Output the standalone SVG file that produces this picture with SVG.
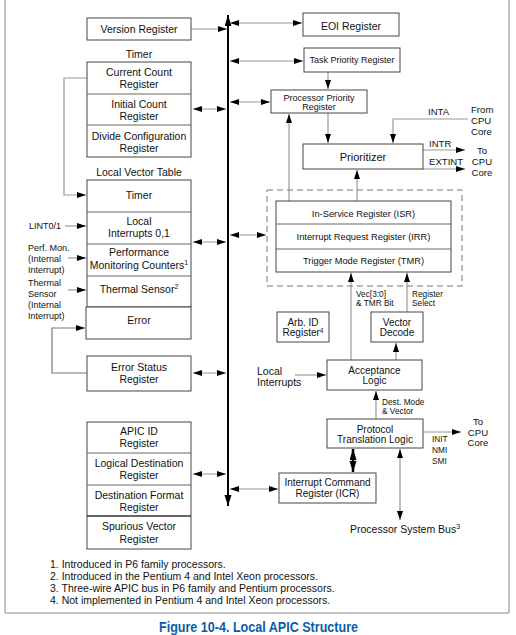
<svg xmlns="http://www.w3.org/2000/svg" width="516" height="635" viewBox="0 0 516 635">
<style>
text{font-family:"Liberation Sans",Arial,sans-serif;fill:#111;}
.t{font-size:10.5px;text-anchor:middle;}
.s{font-size:9.3px;text-anchor:middle;}
.p{font-size:9px;text-anchor:middle;}
.sm{font-size:8.3px;}
.lb{font-size:9px;}
.cp{font-size:9.6px;}
.fn{font-size:10.5px;}
.box{fill:#fff;stroke:#444;stroke-width:1;}
.div{stroke:#666;stroke-width:1;fill:none;}
.ln{stroke:#999;stroke-width:1.2;fill:none;}
.lnd{stroke:#777;stroke-width:1.2;fill:none;}
.bus{stroke:#000;stroke-width:2;fill:none;}
.thick{stroke:#000;stroke-width:2.5;fill:none;}
</style>
<defs>
<marker id="ah" markerUnits="userSpaceOnUse" markerWidth="10" markerHeight="7" refX="9" refY="3" orient="auto-start-reverse">
<path d="M0,0 L9,3 L0,6 z" fill="#000"/>
</marker>
<marker id="ahb" markerUnits="userSpaceOnUse" markerWidth="12" markerHeight="8" refX="11" refY="3.5" orient="auto-start-reverse">
<path d="M0,0 L11,3.5 L0,7 z" fill="#000"/>
</marker>
</defs>

<!-- frame -->
<path d="M5,-1 V613 H509 V-1" fill="none" stroke="#888" stroke-width="1"/>

<g id="connectors">
<line class="bus" x1="228" y1="15" x2="228" y2="506" marker-start="url(#ahb)" marker-end="url(#ahb)"/>
<line class="ln" x1="191" y1="29" x2="227" y2="29" marker-end="url(#ah)"/>
<line class="ln" x1="193" y1="109" x2="226" y2="109" marker-start="url(#ah)" marker-end="url(#ah)"/>
<path class="ln" d="M87,78 H64 V195 H86" marker-end="url(#ah)"/>
<line class="ln" x1="193" y1="242" x2="226" y2="242" marker-start="url(#ah)" marker-end="url(#ah)"/>
<line class="ln" x1="65" y1="226" x2="86" y2="226" marker-end="url(#ah)"/>
<line class="ln" x1="68" y1="258" x2="86" y2="258" marker-end="url(#ah)"/>
<line class="ln" x1="68" y1="290" x2="86" y2="290" marker-end="url(#ah)"/>
<path class="lnd" d="M87,373 H52 V328 H85" marker-end="url(#ah)"/>
<line class="ln" x1="193" y1="373" x2="226" y2="373" marker-start="url(#ah)" marker-end="url(#ah)"/>
<line class="ln" x1="193" y1="474" x2="226" y2="474" marker-start="url(#ah)" marker-end="url(#ah)"/>
<line class="ln" x1="230" y1="23" x2="302" y2="23" marker-start="url(#ah)" marker-end="url(#ah)"/>
<line class="ln" x1="230" y1="61" x2="303" y2="61" marker-start="url(#ah)" marker-end="url(#ah)"/>
<line class="ln" x1="230" y1="102" x2="270" y2="102" marker-start="url(#ah)" marker-end="url(#ah)"/>
<line class="ln" x1="230" y1="235" x2="266" y2="235" marker-start="url(#ah)" marker-end="url(#ah)"/>
<line class="ln" x1="230" y1="489" x2="278" y2="489" marker-start="url(#ah)" marker-end="url(#ah)"/>
<line class="ln" x1="328" y1="72" x2="328" y2="89" marker-end="url(#ah)"/>
<line class="ln" x1="328" y1="113" x2="328" y2="143" marker-end="url(#ah)"/>
<line class="ln" x1="289" y1="201" x2="289" y2="114" marker-end="url(#ah)"/>
<line class="ln" x1="357" y1="201" x2="357" y2="170" marker-end="url(#ah)"/>
<path class="ln" d="M468,119 H393 V143" marker-end="url(#ah)"/>
<line class="ln" x1="423" y1="150" x2="465" y2="150" marker-end="url(#ah)"/>
<line class="ln" x1="423" y1="169" x2="465" y2="169" marker-end="url(#ah)"/>
<line class="ln" x1="351" y1="360" x2="351" y2="273" marker-end="url(#ah)"/>
<line class="ln" x1="407" y1="312" x2="407" y2="273" marker-end="url(#ah)"/>
<line class="ln" x1="396" y1="360" x2="396" y2="343" marker-end="url(#ah)"/>
<line class="ln" x1="295" y1="375" x2="326" y2="375" marker-end="url(#ah)"/>
<line class="ln" x1="376" y1="419" x2="376" y2="391" marker-end="url(#ah)"/>
<line class="ln" x1="423" y1="432" x2="461" y2="432" marker-end="url(#ah)"/>
<line class="thick" x1="353" y1="449" x2="353" y2="472" marker-start="url(#ahb)" marker-end="url(#ahb)"/>
<line class="ln" x1="400" y1="449" x2="400" y2="520" marker-start="url(#ah)" marker-end="url(#ah)"/>
</g>

<g id="version-register">
<rect class="box" x="87" y="18" width="104" height="22"/>
<text class="t" x="139" y="33">Version Register</text>
</g>

<g id="timer">
<text class="t" x="139" y="58">Timer</text>
<rect class="box" x="87" y="62" width="104" height="95"/>
<line class="div" x1="87" y1="94" x2="191" y2="94"/>
<line class="div" x1="87" y1="125" x2="191" y2="125"/>
<text class="t" x="139" y="76">Current Count</text>
<text class="t" x="139" y="88">Register</text>
<text class="t" x="139" y="108">Initial Count</text>
<text class="t" x="139" y="120">Register</text>
<text class="t" x="139" y="139.5">Divide Configuration</text>
<text class="t" x="139" y="151.5">Register</text>
</g>

<g id="lvt">
<text class="t" x="139" y="176">Local Vector Table</text>
<rect class="box" x="87" y="180" width="104" height="127"/>
<line class="div" x1="87" y1="212" x2="191" y2="212"/>
<line class="div" x1="87" y1="244" x2="191" y2="244"/>
<line class="div" x1="87" y1="276" x2="191" y2="276"/>
<text class="t" x="139" y="199">Timer</text>
<text class="t" x="139" y="225">Local</text>
<text class="t" x="139" y="237">Interrupts 0,1</text>
<text class="t" x="139" y="256">Performance</text>
<text class="t" x="139" y="269">Monitoring Counters<tspan font-size="7" dy="-4">1</tspan></text>
<text class="t" x="139" y="293">Thermal Sensor<tspan font-size="7" dy="-4">2</tspan></text>
</g>

<g id="error">
<rect class="box" x="86" y="307" width="105" height="32"/>
<text class="t" x="139" y="324">Error</text>
</g>

<g id="inputs">
<text class="lb" x="29" y="229">LINT0/1</text>
<text class="lb" x="28" y="251">Perf. Mon.</text>
<text class="lb" x="28" y="262">(Internal</text>
<text class="lb" x="28" y="273">Interrupt)</text>
<text class="lb" x="28" y="286">Thermal</text>
<text class="lb" x="28" y="297">Sensor</text>
<text class="lb" x="28" y="308">(Internal</text>
<text class="lb" x="28" y="319">Interrupt)</text>
</g>

<g id="error-status">
<rect class="box" x="87" y="356" width="104" height="35"/>
<text class="t" x="139" y="371">Error Status</text>
<text class="t" x="139" y="383">Register</text>
</g>

<g id="apic-id">
<rect class="box" x="87" y="422" width="104" height="127"/>
<line class="div" x1="87" y1="453" x2="191" y2="453"/>
<line class="div" x1="87" y1="485" x2="191" y2="485"/>
<line x1="87" y1="516" x2="191" y2="516" stroke="#333" stroke-width="1.3"/>
<text class="t" x="139" y="435">APIC ID</text>
<text class="t" x="139" y="447">Register</text>
<text class="t" x="139" y="467">Logical Destination</text>
<text class="t" x="139" y="479">Register</text>
<text class="t" x="139" y="499">Destination Format</text>
<text class="t" x="139" y="511">Register</text>
<text class="t" x="139" y="530">Spurious Vector</text>
<text class="t" x="139" y="543">Register</text>
</g>

<g id="eoi">
<rect class="box" x="303" y="13" width="96" height="23"/>
<text class="t" x="351" y="29.8">EOI Register</text>
</g>

<g id="tpr">
<rect class="box" x="304" y="48" width="96" height="24"/>
<text class="p" x="352" y="63.2">Task Priority Register</text>
</g>

<g id="ppr">
<rect class="box" x="271" y="90" width="96" height="23"/>
<text class="p" x="319" y="100.5">Processor Priority</text>
<text class="p" x="319" y="110">Register</text>
</g>

<g id="prioritizer">
<rect class="box" x="303" y="144" width="120" height="25"/>
<text x="363" y="161" font-size="11" text-anchor="middle">Prioritizer</text>
</g>

<g id="cpu-labels">
<text class="cp" x="428" y="115">INTA</text>
<text class="cp" x="471" y="112.5">From</text>
<text class="cp" x="471" y="123.5">CPU</text>
<text class="cp" x="471" y="134.5">Core</text>
<text class="cp" x="429" y="146.5">INTR</text>
<text class="cp" x="429" y="164.5">EXTINT</text>
<text class="cp" x="482" y="153.5" text-anchor="middle">To</text>
<text class="cp" x="482" y="164.5" text-anchor="middle">CPU</text>
<text class="cp" x="482" y="175.5" text-anchor="middle">Core</text>
</g>

<g id="isr-irr-tmr">
<rect x="267" y="190" width="195" height="96" fill="none" stroke="#777" stroke-width="1" stroke-dasharray="6,4"/>
<rect class="box" x="276" y="201" width="175" height="71"/>
<line class="div" x1="276" y1="224" x2="451" y2="224"/>
<line class="div" x1="276" y1="249" x2="451" y2="249"/>
<text class="s" x="363.5" y="216.5">In-Service Register (ISR)</text>
<text class="s" x="363.5" y="239.5">Interrupt Request Register (IRR)</text>
<text class="s" x="363.5" y="263.5">Trigger Mode Register (TMR)</text>
</g>

<g id="bit-labels">
<text class="sm" x="356" y="297">Vec[3:0]</text>
<text class="sm" x="356" y="306">&amp; TMR Bit</text>
<text class="sm" x="412" y="297">Register</text>
<text class="sm" x="412" y="306">Select</text>
</g>

<g id="arb-id">
<rect class="box" x="277" y="312" width="52" height="30"/>
<text x="303" y="326.3" font-size="10" text-anchor="middle">Arb. ID</text>
<text x="303" y="336.3" font-size="10" text-anchor="middle">Register<tspan font-size="6.5" dy="-3.5">4</tspan></text>
</g>

<g id="vector-decode">
<rect class="box" x="371" y="312" width="52" height="30"/>
<text x="397" y="326.3" font-size="10" text-anchor="middle">Vector</text>
<text x="397" y="336.3" font-size="10" text-anchor="middle">Decode</text>
</g>

<g id="acceptance">
<rect class="box" x="327" y="360" width="95" height="30"/>
<text x="374.5" y="374" font-size="10" text-anchor="middle">Acceptance</text>
<text x="374.5" y="383.5" font-size="10" text-anchor="middle">Logic</text>
</g>

<g id="local-interrupts">
<text x="257" y="375" font-size="10.5">Local</text>
<text x="257" y="386" font-size="10.5">Interrupts</text>
</g>

<g id="dest-labels">
<text class="sm" x="382" y="405">Dest. Mode</text>
<text class="sm" x="382" y="413.5">&amp; Vector</text>
</g>

<g id="protocol">
<rect class="box" x="327" y="419" width="96" height="29"/>
<text x="375" y="432.5" font-size="10" text-anchor="middle">Protocol</text>
<text x="375" y="442.5" font-size="10" text-anchor="middle">Translation Logic</text>
</g>

<g id="cpu-out">
<text class="cp" x="478" y="424.5" text-anchor="middle">To</text>
<text class="cp" x="478" y="435.5" text-anchor="middle">CPU</text>
<text class="cp" x="478" y="445.5" text-anchor="middle">Core</text>
<text class="sm" x="432" y="442">INIT</text>
<text class="sm" x="432" y="453">NMI</text>
<text class="sm" x="432" y="464">SMI</text>
</g>

<g id="icr">
<rect class="box" x="279" y="473" width="97" height="30"/>
<text x="327.5" y="485.5" font-size="10" text-anchor="middle">Interrupt Command</text>
<text x="327.5" y="496.5" font-size="10" text-anchor="middle">Register (ICR)</text>
</g>

<g id="system-bus">
<text x="350" y="533" font-size="10.5">Processor System Bus<tspan font-size="7" dy="-4">3</tspan></text>
</g>

<g id="footnotes">
<text class="fn" x="50" y="568">1. Introduced in P6 family processors.</text>
<text class="fn" x="50" y="580">2. Introduced in the Pentium 4 and Intel Xeon processors.</text>
<text class="fn" x="50" y="592">3. Three-wire APIC bus in P6 family and Pentium processors.</text>
<text class="fn" x="50" y="604">4. Not implemented in Pentium 4 and Intel Xeon processors.</text>
</g>

<text x="258.5" y="632" font-size="14" font-weight="bold" text-anchor="middle" style="fill:#0a5ea8" textLength="199" lengthAdjust="spacingAndGlyphs">Figure 10-4.  Local APIC Structure</text>
</svg>
